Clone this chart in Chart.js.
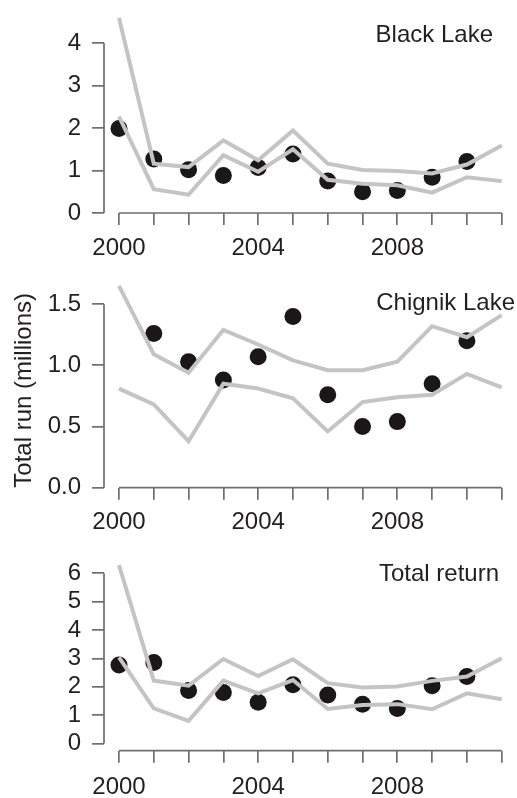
<!DOCTYPE html>
<html>
<head>
<meta charset="utf-8">
<script src="https://cdn.jsdelivr.net/npm/chart.js@4/dist/chart.umd.min.js"></script>
<style>
  html, body { margin: 0; padding: 0; background: #fff; }
  body { width: 517px; height: 798px; position: relative; overflow: hidden; }
  .panel { position: absolute; left: 0; width: 517px; }
  .label {
    position: absolute; font: 24px 'Liberation Sans', Arial, sans-serif;
    line-height: 24px; color: #231f20; white-space: nowrap;
  }
</style>
</head>
<body>
<div class="panel" style="top:0;height:270px"><canvas id="black"></canvas></div>
<div class="panel" style="top:262px;height:272px"><canvas id="chignik"></canvas></div>
<div class="panel" style="top:530px;height:268px"><canvas id="total"></canvas></div>
<div class="label" style="top:22px;right:24px">Black Lake</div>
<div class="label" style="top:290px;right:2px">Chignik Lake</div>
<div class="label" style="top:561px;right:18px">Total return</div>
<script>
// years and the tick labels shown on the x axis
const years = [2000, 2001, 2002, 2003, 2004, 2005, 2006, 2007, 2008, 2009, 2010, 2011];
const yearLabels = [2000, 2004, 2008];

// Black Lake: observed run and upper / lower bounds (millions)
const blackObs = [1.99, 1.27, 1.02, 0.88, 1.07, 1.39, 0.75, 0.50, 0.53, 0.84, 1.21, null];
const blackHi = [4.59, 1.16, 1.08, 1.71, 1.24, 1.94, 1.16, 1.01, 0.99, 0.93, 1.14, 1.59];
const blackLo = [2.27, 0.56, 0.43, 1.36, 0.97, 1.50, 0.78, 0.69, 0.65, 0.48, 0.84, 0.75];
const blackTicks = [0, 1, 2, 3, 4];
const blackTickLabels = ['0', '1', '2', '3', '4'];

// Chignik Lake
const chignikObs = [null, 1.26, 1.03, 0.88, 1.07, 1.40, 0.76, 0.50, 0.54, 0.85, 1.20, null];
const chignikHi = [1.65, 1.09, 0.94, 1.29, 1.17, 1.04, 0.96, 0.96, 1.03, 1.32, 1.23, 1.41];
const chignikLo = [0.81, 0.68, 0.38, 0.85, 0.81, 0.73, 0.46, 0.70, 0.74, 0.76, 0.93, 0.82];
const chignikTicks = [0, 0.5, 1, 1.5];
const chignikTickLabels = ['0.0', '0.5', '1.0', '1.5'];

// Total return
const totalObs = [2.77, 2.86, 1.87, 1.80, 1.46, 2.07, 1.71, 1.39, 1.24, 2.04, 2.36, null];
const totalHi = [6.29, 2.22, 2.04, 2.98, 2.38, 2.97, 2.13, 1.98, 2.01, 2.21, 2.36, 3.01];
const totalLo = [3.04, 1.24, 0.80, 2.22, 1.77, 2.24, 1.22, 1.36, 1.39, 1.21, 1.77, 1.56];
const totalTicks = [0, 1, 2, 3, 4, 5, 6];
const totalTickLabels = ['0', '1', '2', '3', '4', '5', '6'];

const ink = '#231f20';
const axisGrey = '#6e6e6e';
const bandGrey = '#c4c4c4';

Chart.defaults.font.family = "'Liberation Sans', Arial, sans-serif";
Chart.defaults.font.size = 24;
Chart.defaults.color = ink;

const points = vals => years.map((x, i) => ({ x: x, y: vals[i] }));

// R-style axis lines that run only from the first to the last tick
const axisLines = {
  id: 'axisLines',
  afterDraw(chart) {
    const { ctx, scales: { x, y } } = chart;
    const yt = y.ticks;
    ctx.save();
    ctx.strokeStyle = axisGrey;
    ctx.lineWidth = 1.7;
    ctx.beginPath();
    ctx.moveTo(x.left, y.getPixelForValue(yt[0].value));
    ctx.lineTo(x.left, y.getPixelForValue(yt[yt.length - 1].value));
    ctx.moveTo(x.getPixelForValue(years[0]), y.bottom);
    ctx.lineTo(x.getPixelForValue(years[years.length - 1]), y.bottom);
    ctx.stroke();
    ctx.restore();
  }
};

function panel(id, obs, hi, lo, ticks, tickLabels, opts) {
  const band = vals => ({
    data: points(vals),
    borderColor: bandGrey,
    borderWidth: 4,
    pointRadius: 0,
    tension: 0,
    order: 1
  });
  return new Chart(document.getElementById(id), {
    type: 'line',
    data: {
      datasets: [band(hi), band(lo), {
        data: points(obs),
        showLine: false,
        pointRadius: 8.5,
        pointBackgroundColor: '#1b1718',
        pointBorderWidth: 0,
        order: 2
      }]
    },
    options: {
      responsive: true,
      maintainAspectRatio: false,
      animation: false,
      events: [],
      layout: { padding: { top: opts.top, right: 9, left: 0, bottom: 0 } },
      plugins: { legend: { display: false }, tooltip: { enabled: false } },
      scales: {
        x: {
          type: 'linear',
          min: 1999.569,
          max: 2011.181,
          afterBuildTicks: s => { s.ticks = years.map(v => ({ value: v })); },
          afterFit: s => { s.height = opts.xHeight; s.paddingLeft = 0; s.paddingRight = 0; },
          border: { display: false },
          grid: { drawOnChartArea: false, tickLength: 12, color: axisGrey, lineWidth: 1.7 },
          ticks: {
            autoSkip: false,
            maxRotation: 0,
            padding: opts.labelGap,
            callback: v => (yearLabels.includes(v) ? String(v) : '')
          }
        },
        y: {
          min: opts.min,
          max: opts.max,
          afterBuildTicks: s => { s.ticks = ticks.map(v => ({ value: v })); },
          afterFit: s => { s.width = 104; s.paddingTop = 0; s.paddingBottom = 0; },
          border: { display: false },
          grid: { drawOnChartArea: false, tickLength: 12, color: axisGrey, lineWidth: 1.7 },
          ticks: { padding: 11, callback: (v, i) => tickLabels[i] },
          title: {
            display: !!opts.title,
            text: opts.title || '',
            align: 'start',
            padding: { top: 10, bottom: 0 }
          }
        }
      }
    },
    plugins: [axisLines]
  });
}

panel('black', blackObs, blackHi, blackLo, blackTicks, blackTickLabels,
  { min: 0, max: 4.81, top: 0, xHeight: 57, labelGap: 9 });
panel('chignik', chignikObs, chignikHi, chignikLo, chignikTicks, chignikTickLabels,
  { min: 0, max: 1.775, top: 8, xHeight: 46.3, labelGap: 8, title: 'Total run (millions)' });
panel('total', totalObs, totalHi, totalLo, totalTicks, totalTickLabels,
  { min: -0.25, max: 6.82, top: 20, xHeight: 47.3, labelGap: 10 });
</script>
</body>
</html>
